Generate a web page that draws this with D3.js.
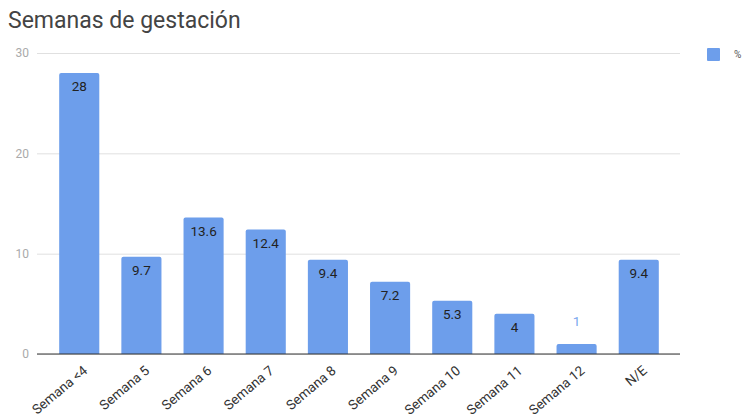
<!DOCTYPE html>
<html>
<head>
<meta charset="utf-8">
<script src="https://cdn.jsdelivr.net/npm/d3@7"></script>
<style>
  body { margin: 0; background: #fff; }
  text { font-family: Roboto, "Noto Sans", sans-serif; }
</style>
</head>
<body>
<div id="chart"></div>
<script>
var categories = ["Semana <4", "Semana 5", "Semana 6", "Semana 7", "Semana 8", "Semana 9", "Semana 10", "Semana 11", "Semana 12", "N/E"];
var values = [28, 9.7, 13.6, 12.4, 9.4, 7.2, 5.3, 4, 1, 9.4];
var yTicks = [0, 10, 20, 30];
var seriesName = "%";
var chartTitle = "Semanas de gestación";

var width = 743, height = 419;
var plot = { left: 37, right: 680, top: 53, bottom: 354 };
var barColor = "#6d9eeb";

var svg = d3.select("#chart").append("svg")
  .attr("width", width)
  .attr("height", height);

var x = d3.scaleBand()
  .domain(categories)
  .range([48, 670])
  .paddingInner(0.355)
  .paddingOuter(0.18);

var y = d3.scaleLinear().domain([0, 30]).range([plot.bottom, plot.top]);

// title
svg.append("text")
  .attr("x", 8)
  .attr("y", 28)
  .style("font-size", "23px")
  .attr("fill", "#444")
  .text(chartTitle);

// gridlines + y labels
var yAxis = svg.append("g")
  .attr("transform", "translate(" + plot.left + ",0)")
  .call(d3.axisLeft(y).tickValues(yTicks).tickSize(-(plot.right - plot.left)).tickPadding(8));
yAxis.select(".domain").remove();
yAxis.selectAll(".tick line").attr("stroke", "#e0e0e0");
yAxis.selectAll(".tick text")
  .attr("fill", "#aaa")
  .style("font-size", "12px")
  .style("font-family", "Roboto, sans-serif");

// bars
var r = 2;
svg.selectAll("path.bar")
  .data(values)
  .enter()
  .append("path")
  .attr("class", "bar")
  .attr("fill", barColor)
  .attr("d", function (d, i) {
    var x0 = x(categories[i]), w = x.bandwidth();
    var y0 = y(d), y1 = y(0);
    return "M" + x0 + "," + y1 +
      "V" + (y0 + r) +
      "Q" + x0 + "," + y0 + " " + (x0 + r) + "," + y0 +
      "H" + (x0 + w - r) +
      "Q" + (x0 + w) + "," + y0 + " " + (x0 + w) + "," + (y0 + r) +
      "V" + y1 + "Z";
  });

// baseline
svg.append("line")
  .attr("x1", plot.left)
  .attr("x2", plot.right)
  .attr("y1", y(0))
  .attr("y2", y(0))
  .attr("stroke", "#333")
  .attr("stroke-width", 1);

// value labels
svg.selectAll("text.val")
  .data(values)
  .enter()
  .append("text")
  .attr("class", "val")
  .attr("x", function (d, i) { return x(categories[i]) + x.bandwidth() / 2; })
  .attr("y", function (d) {
    return (y(0) - y(d)) > 22 ? y(d) + 18 : y(d) - 18;
  })
  .attr("text-anchor", "middle")
  .style("font-size", "13.5px")
  .attr("fill", function (d) { return (y(0) - y(d)) > 22 ? "#222" : "#7ba7ee"; })
  .text(function (d) { return d; });

// x labels
svg.selectAll("text.cat")
  .data(categories)
  .enter()
  .append("text")
  .attr("class", "cat")
  .attr("transform", function (d) {
    var cx = x(d) + x.bandwidth() / 2 + 9;
    return "translate(" + cx + "," + (y(0) + 18) + ") rotate(-40)";
  })
  .attr("text-anchor", "end")
  .style("font-size", "13.5px")
  .attr("fill", "#333")
  .text(function (d) { return d; });

// legend
svg.append("rect")
  .attr("x", 707)
  .attr("y", 48)
  .attr("width", 13)
  .attr("height", 13)
  .attr("rx", 1)
  .attr("fill", barColor);
svg.append("text")
  .attr("x", 734)
  .attr("y", 58)
  .style("font-size", "10px")
  .attr("fill", "#555")
  .text(seriesName);
</script>
</body>
</html>
